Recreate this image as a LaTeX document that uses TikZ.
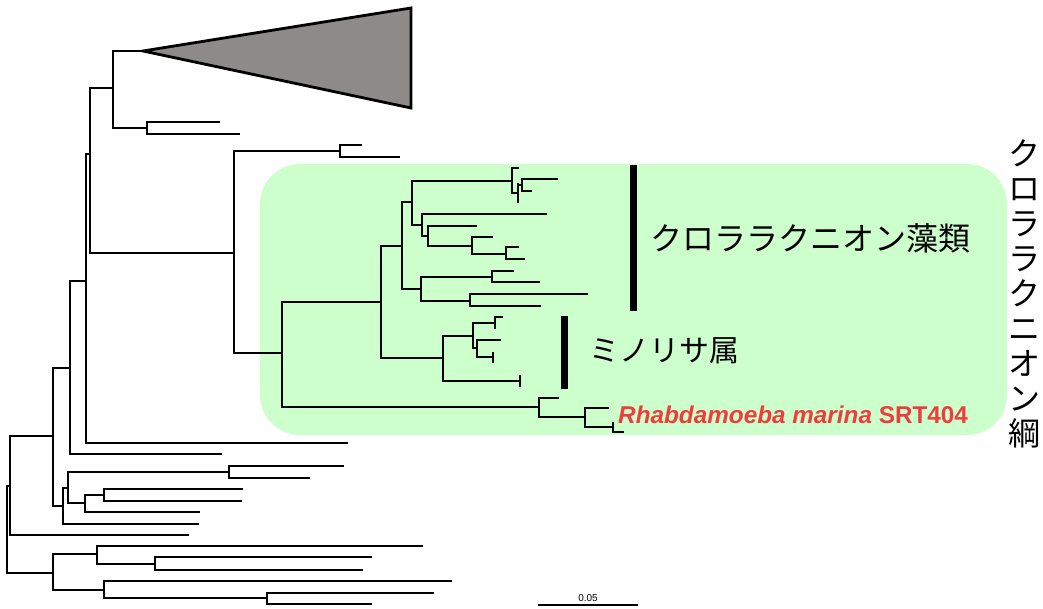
\documentclass[tikz,border=0pt]{standalone}
\usepackage{fontspec}
\setmainfont{Liberation Sans}
\newfontfamily\jp{Noto Sans CJK JP}
\definecolor{boxgreen}{HTML}{CCFFCC}
\definecolor{clade}{HTML}{8E8A89}
\definecolor{redlab}{HTML}{F03C3C}
\begin{document}
\begin{tikzpicture}[x=1pt,y=-1pt,
  br/.style={line width=2.8pt,line join=miter},
  bar/.style={line width=7pt},
  jplab/.style={font=\jp\fontsize{32}{35}\selectfont,inner sep=0pt}]
\useasboundingbox (0,0) rectangle (1043,609);
% green highlight
\fill[boxgreen,rounded corners=40pt] (260,164) rectangle (1007,435);
% collapsed clade
\draw[br,fill=clade] (143,51) -- (411,8) -- (411,108) -- cycle;
% branches
\draw[br] (143,51) -- (113,51) -- (113,128) -- (147,128);
\draw[br] (220,122) -- (147,122) -- (147,134) -- (240,134);
\draw[br] (113,88) -- (90,88) -- (90,253) -- (234,253);
\draw[br] (340,151) -- (234,151) -- (234,353) -- (282,353);
\draw[br] (362,145) -- (340,145) -- (340,157) -- (400,157);
\draw[br] (381,302) -- (282,302) -- (282,407) -- (539,407);
\draw[br] (402,246) -- (381,246) -- (381,358) -- (443,358);
\draw[br] (412,202) -- (402,202) -- (402,289) -- (421,289);
\draw[br] (512,181) -- (412,181) -- (412,225) -- (422,225);
\draw[br] (519,168) -- (512,168) -- (512,193) -- (518,193);
\draw[br] (518,183) -- (518,203);
\draw[br] (518,185) -- (522,185);
\draw[br] (558,179) -- (522,179) -- (522,191) -- (532,191);
\draw[br] (547,214) -- (422,214) -- (422,236) -- (428,236);
\draw[br] (477,226) -- (428,226) -- (428,246) -- (472,246);
\draw[br] (493,237) -- (472,237) -- (472,254) -- (506,254);
\draw[br] (519,247) -- (506,247) -- (506,259) -- (525,259);
\draw[br] (492,277) -- (421,277) -- (421,301) -- (470,301);
\draw[br] (514,271) -- (492,271) -- (492,282) -- (540,282);
\draw[br] (588,294) -- (470,294) -- (470,306) -- (541,306);
\draw[br] (473,336) -- (443,336) -- (443,381) -- (520,381);
\draw[br] (520,375) -- (520,387);
\draw[br] (495,323) -- (473,323) -- (473,348) -- (477,348);
\draw[br] (503,317) -- (495,317) -- (495,329);
\draw[br] (501,340) -- (477,340) -- (477,357) -- (493,357);
\draw[br] (493,352) -- (493,363);
\draw[br] (559,398) -- (539,398) -- (539,417) -- (585,417);
\draw[br] (609,408) -- (585,408) -- (585,427) -- (613,427);
\draw[br] (613,422) -- (613,432) -- (624,432);
\draw[br] (90,154) -- (86,154) -- (86,443) -- (348,443);
\draw[br] (86,281) -- (70,281) -- (70,454) -- (222,454);
\draw[br] (70,368) -- (53,368) -- (53,506) -- (63,506);
\draw[br] (68,488) -- (63,488) -- (63,524) -- (199,524);
\draw[br] (229,472) -- (68,472) -- (68,503) -- (85,503);
\draw[br] (344,466) -- (229,466) -- (229,478) -- (310,478);
\draw[br] (104,495) -- (85,495) -- (85,512) -- (200,512);
\draw[br] (243,489) -- (104,489) -- (104,501) -- (242,501);
\draw[br] (53,436) -- (10,436) -- (10,535) -- (189,535);
\draw[br] (10,486) -- (7,486) -- (7,573) -- (53,573);
\draw[br] (97,554) -- (53,554) -- (53,590) -- (104,590);
\draw[br] (423,546) -- (97,546) -- (97,564) -- (155,564);
\draw[br] (372,557) -- (155,557) -- (155,570) -- (363,570);
\draw[br] (452,581) -- (104,581) -- (104,598) -- (267,598);
\draw[br] (434,593) -- (267,593) -- (267,604) -- (372,604);
% group bars
\draw[bar] (633,165) -- (633,311);
\draw[bar] (564,316) -- (564,389);
% labels
\node[jplab,anchor=west] (chlalg) at (650,238) {クロララクニオン藻類};
\node[jplab,anchor=west,font=\jp\fontsize{30}{33}\selectfont] (minorisa) at (589,351) {ミノリサ属};
\node[anchor=west,inner sep=0pt,text=redlab,font=\bfseries\fontsize{24.3}{27}\selectfont] (rhab) at (618,415) {\textit{Rhabdamoeba marina} SRT404};
\node[jplab,align=center,anchor=north] (chlcls) at (1024,139) {ク\\ロ\\ラ\\ラ\\ク\\ニ\\オ\\ン\\綱};
% scale bar
\coordinate (sbl) at (538,605);
\coordinate (sbr) at (638,605);
\draw[line width=2.4pt] (sbl) -- (sbr);
\node[font=\fontsize{10}{11}\selectfont,inner sep=0pt] (sblab) at (588,598) {0.05};
\end{tikzpicture}
\end{document}
